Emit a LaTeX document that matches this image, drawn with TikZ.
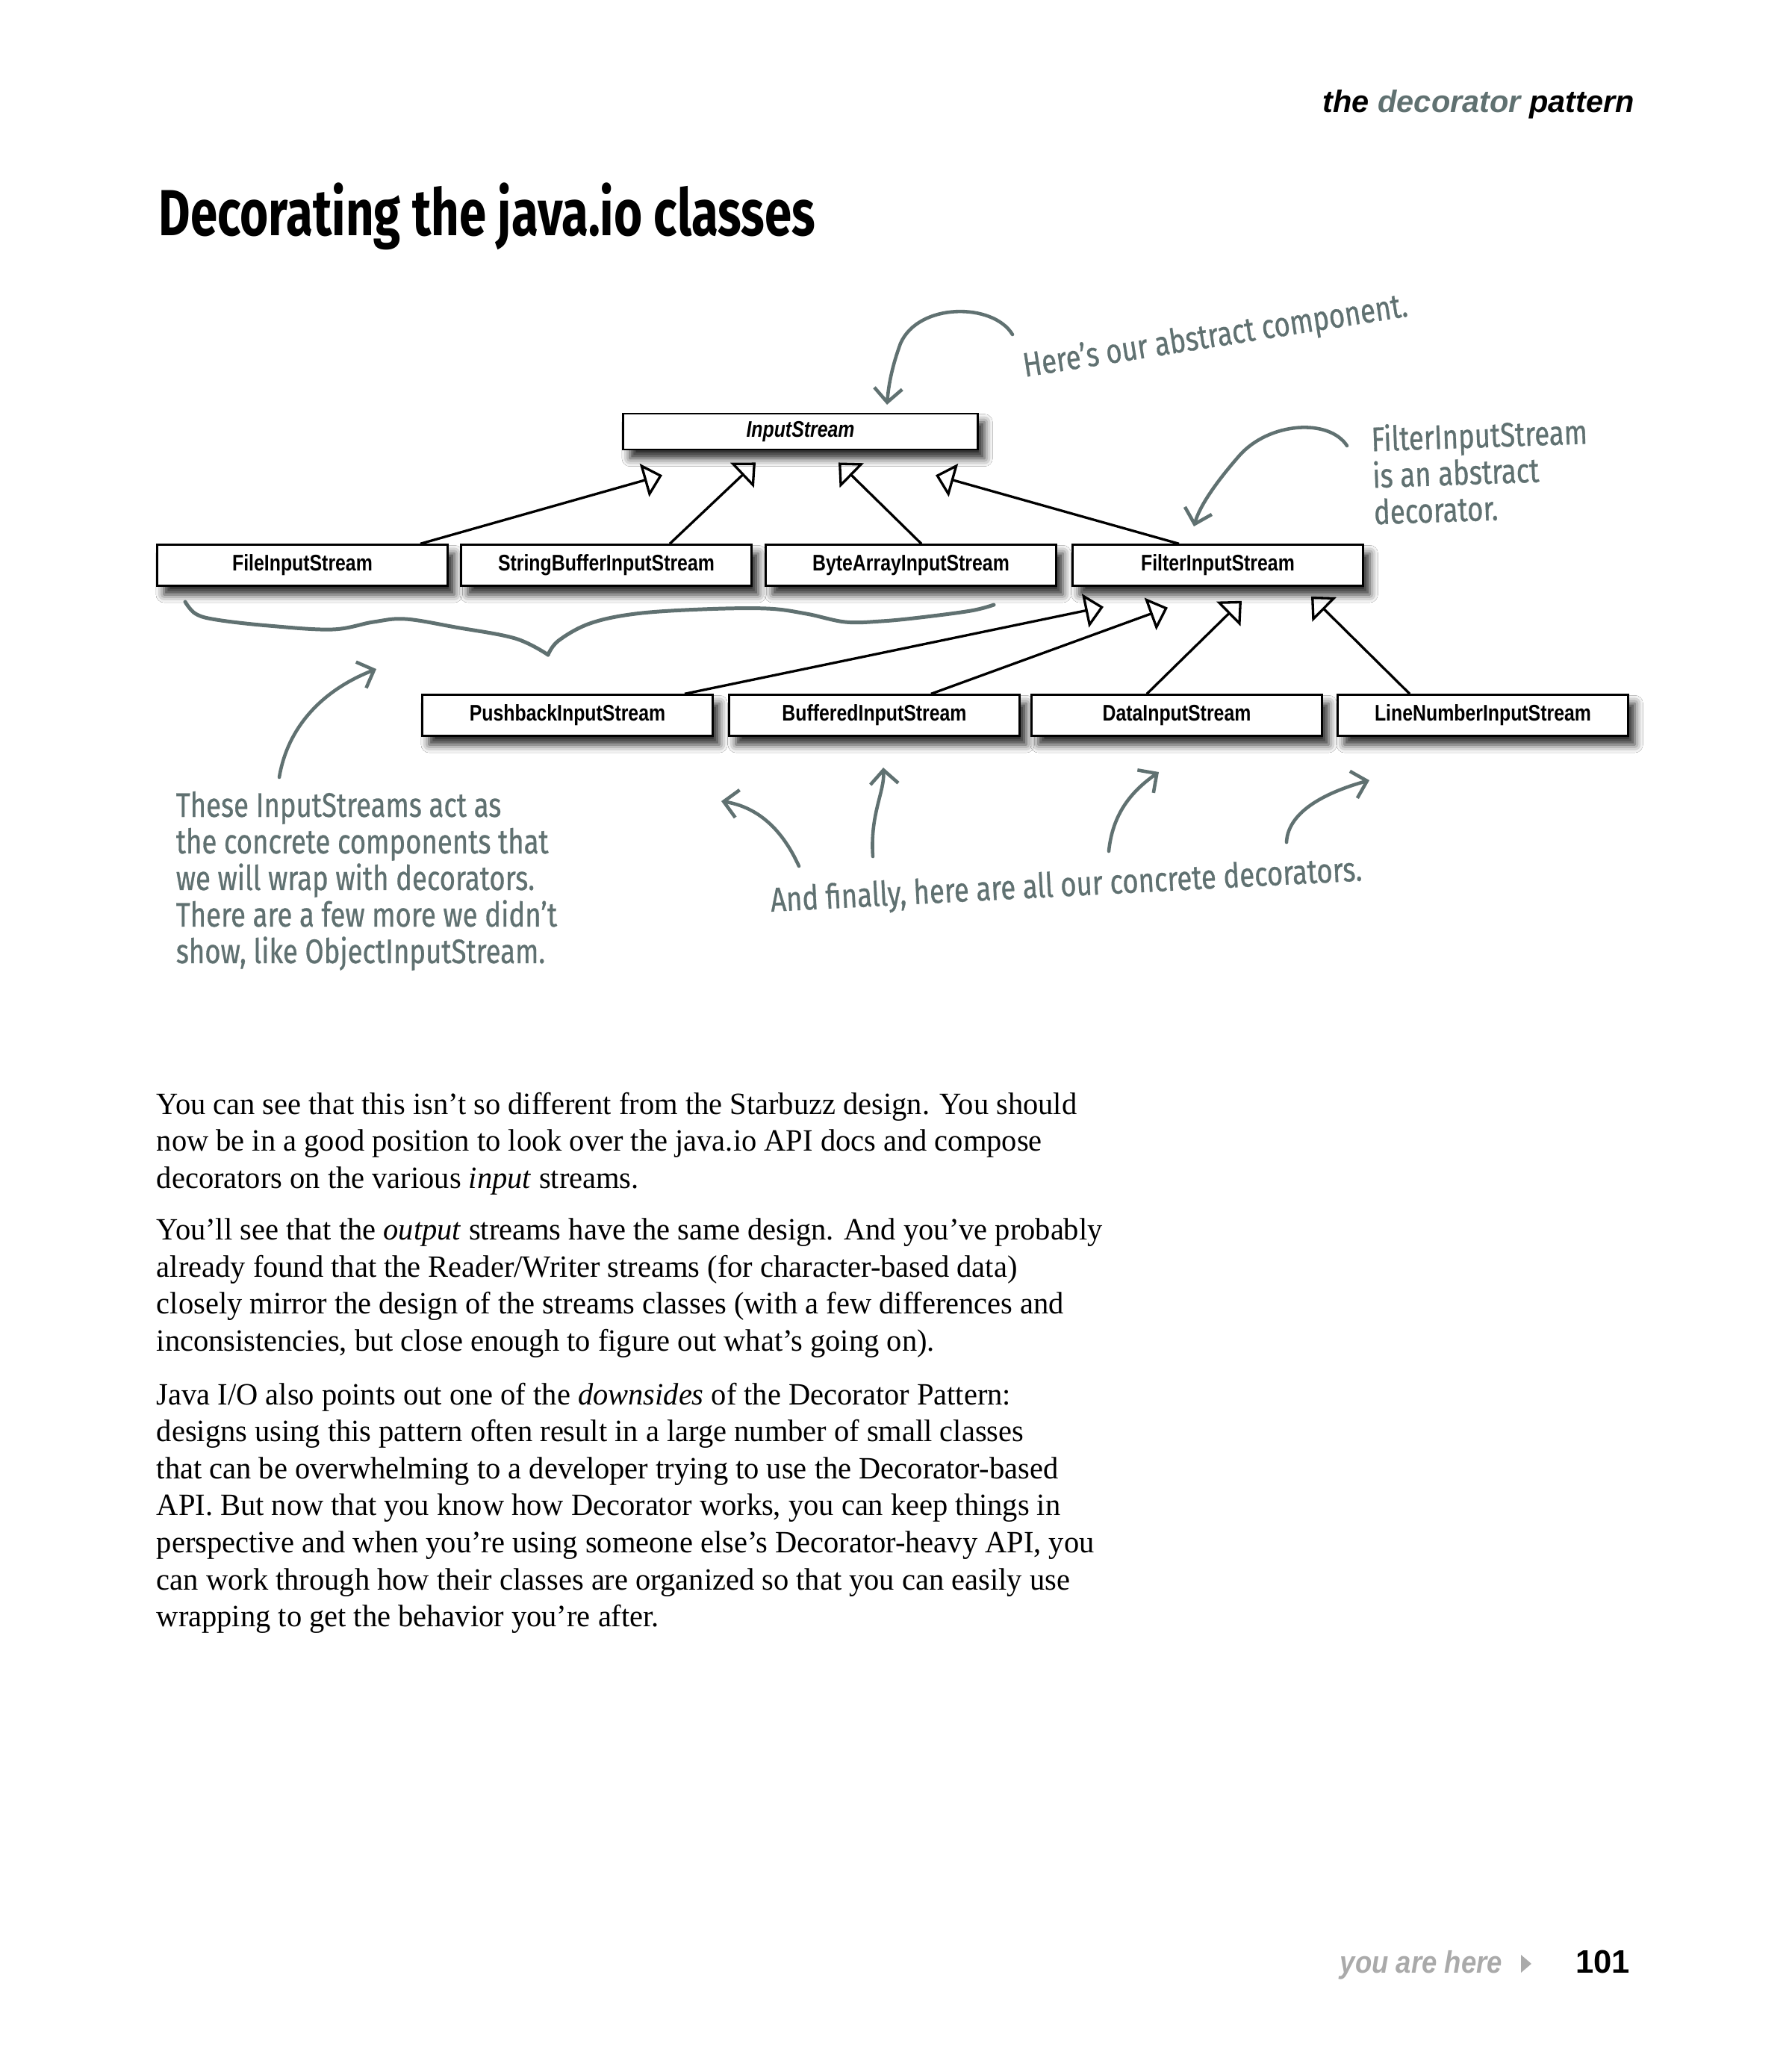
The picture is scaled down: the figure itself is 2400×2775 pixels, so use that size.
\documentclass[tikz,border=0pt]{standalone}
\usepackage{fontspec}
\setmainfont{Liberation Serif}
\newfontfamily\boxfont[FakeStretch=0.82]{Liberation Sans}
\newfontfamily\headfont{Liberation Sans}
\newfontfamily\herefont[FakeStretch=0.88]{Liberation Sans}
\newfontfamily\notefont[FakeStretch=0.8, FakeBold=0.6]{Fira Sans}
\newfontfamily\titlefont[FakeStretch=0.75]{Fira Sans}
\newfontfamily\bodyfont[FakeStretch=0.975]{Liberation Serif}
\usetikzlibrary{arrows.meta, positioning, calc, shadows.blur}
\definecolor{notegray}{RGB}{96,113,113}
\definecolor{herecolor}{RGB}{170,170,170}

\begin{document}
\begin{tikzpicture}[x=0.2409pt, y=-0.2409pt,
  cls/.style={draw=black, line width=0.55pt, fill=white, minimum width=93.7pt, minimum height=13.3pt, inner sep=0pt,
    font=\boxfont\bfseries\fontsize{7.3}{8}\selectfont,
    blur shadow={shadow xshift=2.2pt, shadow yshift=-2.8pt, shadow blur radius=2.6pt, shadow opacity=85}},
  inherit/.style={line width=0.8pt, -{Triangle[open, length=6pt, width=11pt, line width=0.8pt]}},
  note/.style={text=notegray, inner sep=0pt, font=\notefont\fontsize{11}{11.8}\selectfont},
  notearrow/.style={draw=notegray, line width=1.1pt, line cap=round, -{Straight Barb[length=4.5pt, width=9pt]}},
  body/.style={anchor=north west, align=left, inner sep=0pt, font=\bodyfont\fontsize{10}{11.95}\selectfont}
]
  \fill[white] (0,0) rectangle (2400,2775);
  \useasboundingbox (0,0) rectangle (2400,2775);

  \node[anchor=base east, inner sep=0pt, font=\headfont\bfseries\itshape\fontsize{10}{12}\selectfont] (head) at (2190,150)
    {the \textcolor{notegray}{decorator} pattern};
  \node[anchor=base west, inner sep=0pt, font=\titlefont\bfseries\fontsize{21}{24}\selectfont] (title) at (212,315)
    {Decorating the java.io classes};

  \node[cls, minimum width=114.4pt, minimum height=11.7pt, font=\boxfont\bfseries\itshape\fontsize{7.3}{8}\selectfont] (istream) at (1072,578) {InputStream};

  \node[cls] (fileis) at (405,757) {FileInputStream};
  \node[cls] (sbufis) at (812,757) {StringBufferInputStream};
  \node[cls] (barris) at (1220,757) {ByteArrayInputStream};
  \node[cls] (filtis) at (1631,757) {FilterInputStream};

  \node[cls] (pushis) at (760,958) {PushbackInputStream};
  \node[cls] (bufis) at (1171,958) {BufferedInputStream};
  \node[cls] (datais) at (1576,958) {DataInputStream};
  \node[cls] (lineis) at (1986,958) {LineNumberInputStream};

  \draw[inherit] ($(fileis.north)+(158,0)$) -- ($(istream.south)+(-185,33)$);
  \draw[inherit] ($(sbufis.north)+(85,0)$) -- ($(istream.south)+(-60,16)$);
  \draw[inherit] ($(barris.north)+(14,0)$) -- ($(istream.south)+(51,16)$);
  \draw[inherit] ($(filtis.north)+(-52,0)$) -- ($(istream.south)+(181,33)$);

  \draw[inherit] ($(pushis.north)+(157,0)$) -- ($(filtis.south)+(-153,27)$);
  \draw[inherit] ($(bufis.north)+(76,0)$) -- ($(filtis.south)+(-67,28)$);
  \draw[inherit] ($(datais.north)+(-40,0)$) -- ($(filtis.south)+(32,19)$);
  \draw[inherit] ($(lineis.north)+(-98,0)$) -- ($(filtis.south)+(125,13)$);

  \node[note, anchor=base west, rotate=9] (abstractnote) at (1372,505) {Here’s our abstract component.};
  \coordinate (abstractfrom) at (1356,448);
  \coordinate (abstractto) at (1188,542);
  \draw[notearrow] (abstractfrom) .. controls (1330,405) and (1230,405) .. (1206,460)
    .. controls (1195,490) and (1190,515) .. (abstractto);

  \node[note, anchor=north west, align=left, rotate=2] (filternote) at (1835,568)
    {FilterInputStream\\is an abstract\\decorator.};
  \coordinate (filterfrom) at (1804,597);
  \coordinate (filterto) at (1599,705);
  \draw[notearrow] (filterfrom) .. controls (1780,560) and (1700,565) .. (1660,610)
    .. controls (1625,650) and (1606,680) .. (filterto);

  \draw[notegray, line width=1.2pt, line cap=round] plot[smooth, tension=0.6] coordinates {(248,806) (262,822) (290,830) (360,838) (445,843) (500,833) (543,829) (610,840) (690,855) (734,877)};
  \draw[notegray, line width=1.2pt, line cap=round] plot[smooth, tension=0.6] coordinates {(734,877) (748,858) (790,835) (851,822) (940,816) (1027,815) (1080,822) (1132,833) (1180,832) (1232,827) (1300,818) (1331,810)};

  \node[note, anchor=north west, align=left] (concretenote) at (235,1059)
    {These InputStreams act as\\the concrete components that\\we will wrap with decorators.\\There are a few more we didn’t\\show, like ObjectInputStream.};
  \coordinate (concretefrom) at (374,1041);
  \coordinate (concreteto) at (504,896);
  \draw[notearrow] (concretefrom) .. controls (385,975) and (430,925) .. (concreteto);

  \node[note, anchor=base west, rotate=3] (decornote) at (1032,1221) {And finally, here are all our concrete decorators.};
  \coordinate (pushfrom) at (1070,1160);
  \coordinate (pushto) at (966,1073);
  \coordinate (buffrom) at (1169,1147);
  \coordinate (bufto) at (1183,1028);
  \coordinate (datafrom) at (1485,1140);
  \coordinate (datato) at (1552,1034);
  \coordinate (linefrom) at (1723,1128);
  \coordinate (lineto) at (1834,1045);
  \draw[notearrow] (pushfrom) .. controls (1045,1105) and (1010,1080) .. (pushto);
  \draw[notearrow] (buffrom) .. controls (1165,1090) and (1185,1060) .. (bufto);
  \draw[notearrow] (datafrom) .. controls (1490,1090) and (1515,1060) .. (datato);
  \draw[notearrow] (linefrom) .. controls (1725,1085) and (1780,1060) .. (lineto);

  \node[body] (para1) at (209,1462)
    {You can see that this isn’t so different from the Starbuzz design. You should\\
     now be in a good position to look over the java.io API docs and compose\\
     decorators on the various \textit{input} streams.};
  \node[body] (para2) at (209,1631)
    {You’ll see that the \textit{output} streams have the same design. And you’ve probably\\
     already found that the Reader/Writer streams (for character-based data)\\
     closely mirror the design of the streams classes (with a few differences and\\
     inconsistencies, but close enough to figure out what’s going on).};
  \node[body] (para3) at (209,1851)
    {Java I/O also points out one of the \textit{downsides} of the Decorator Pattern:\\
     designs using this pattern often result in a large number of small classes\\
     that can be overwhelming to a developer trying to use the Decorator-based\\
     API. But now that you know how Decorator works, you can keep things in\\
     perspective and when you’re using someone else’s Decorator-heavy API, you\\
     can work through how their classes are organized so that you can easily use\\
     wrapping to get the behavior you’re after.};

  \node[anchor=base east, inner sep=0pt, text=herecolor, font=\herefont\bfseries\itshape\fontsize{10}{12}\selectfont] (here) at (2013,2642) {you are here};
  \fill[herecolor] (2037,2618) -- (2051,2630) -- (2037,2642) -- cycle;
  \node[anchor=base east, inner sep=0pt, font=\headfont\bfseries\fontsize{10.5}{12}\selectfont] (pagenum) at (2184,2642) {101};
\end{tikzpicture}
\end{document}
